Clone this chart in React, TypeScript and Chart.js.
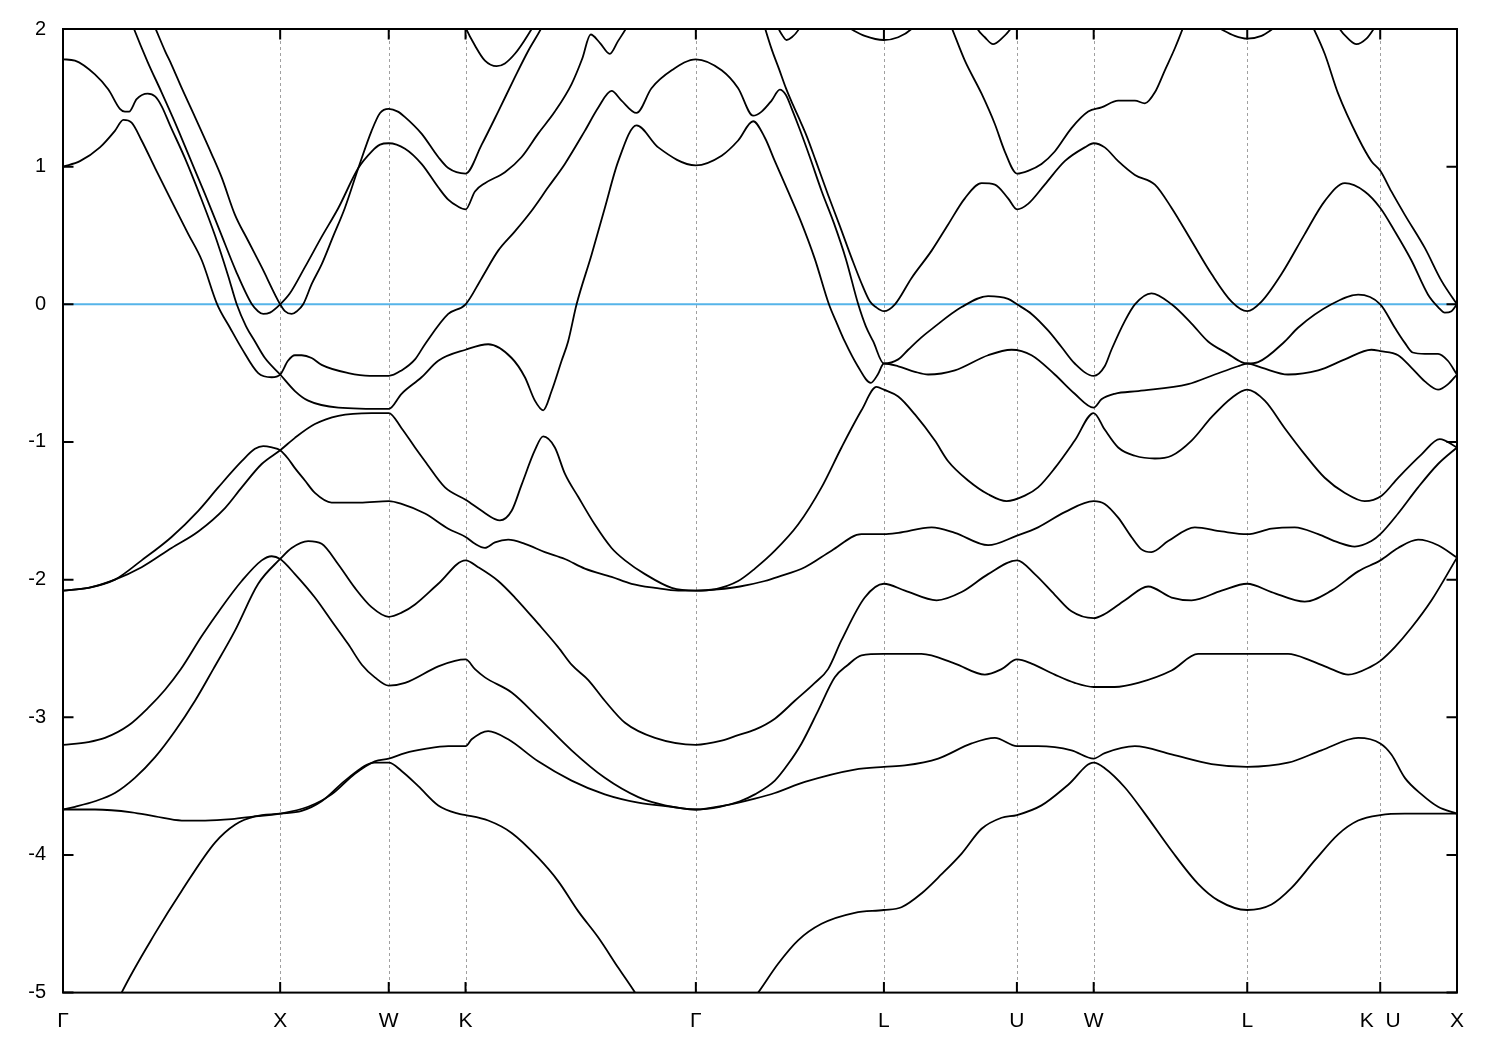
import React, { useEffect, useRef } from "react";
import { Chart, registerables } from "chart.js";

Chart.register(...registerables);

// high-symmetry path (k in units of 2*pi/a)
const kTicks = [0, 1, 1.5, 1.8536, 2.9142, 3.7802, 4.3926, 4.7462, 5.4533, 6.0656, 6.4192];
const kLabels = ["Γ", "X", "W", "K", "Γ", "L", "U", "W", "L", "K  U", "X"];
const energyTicks = [2, 1, 0, -1, -2, -3, -4, -5];
const fermiLevel = 0;

type P = [number, number];

const band01: P[] = [[0,1.00],[0.078,1.04],[0.170,1.14],[0.239,1.26],[0.278,1.34],[0.316,1.32],[0.362,1.19],[0.424,0.99],[0.500,0.75],[0.577,0.51],[0.639,0.32],[0.710,0.00],[0.769,-0.17],[0.823,-0.32],[0.899,-0.50],[0.961,-0.53],[1.000,-0.51],[1.036,-0.41],[1.068,-0.37],[1.099,-0.37],[1.145,-0.39],[1.191,-0.44],[1.314,-0.50],[1.413,-0.52],[1.500,-0.52],[1.559,-0.48],[1.621,-0.40],[1.667,-0.29],[1.774,-0.07],[1.854,0.00],[1.928,0.19],[2.004,0.39],[2.081,0.53],[2.158,0.68],[2.234,0.85],[2.311,1.02],[2.403,1.26],[2.465,1.43],[2.526,1.55],[2.572,1.48],[2.641,1.39],[2.710,1.57],[2.803,1.70],[2.914,1.78],[3.033,1.70],[3.109,1.57],[3.178,1.37],[3.217,1.40],[3.263,1.48],[3.301,1.56],[3.329,1.52],[3.356,1.42],[3.393,1.27],[3.439,1.07],[3.494,0.82],[3.550,0.59],[3.605,0.33],[3.662,0.00],[3.697,-0.16],[3.731,-0.27],[3.780,-0.43],[3.846,-0.40],[3.892,-0.33],[3.953,-0.24],[4.000,-0.18],[4.138,-0.02],[4.260,0.06],[4.352,0.04],[4.393,0.00],[4.460,-0.07],[4.536,-0.19],[4.598,-0.31],[4.659,-0.43],[4.746,-0.52],[4.797,-0.45],[4.828,-0.33],[4.890,-0.12],[4.936,0.00],[5.012,0.08],[5.105,0.00],[5.197,-0.14],[5.273,-0.27],[5.365,-0.36],[5.427,-0.42],[5.453,-0.43],[5.503,-0.42],[5.626,-0.27],[5.687,-0.17],[5.841,0.00],[5.964,0.07],[6.066,0.00],[6.133,-0.17],[6.179,-0.28],[6.215,-0.35],[6.271,-0.36],[6.332,-0.36],[6.377,-0.41],[6.419,-0.51]];
const band02: P[] = [[0,1.78],[0.055,1.77],[0.147,1.67],[0.209,1.56],[0.262,1.42],[0.285,1.40],[0.304,1.40],[0.339,1.49],[0.390,1.53],[0.424,1.51],[0.454,1.44],[0.493,1.30],[0.562,1.06],[0.631,0.79],[0.700,0.50],[0.760,0.21],[0.800,0.00],[0.843,-0.16],[0.884,-0.27],[0.930,-0.39],[1.000,-0.51],[1.068,-0.63],[1.129,-0.70],[1.268,-0.75],[1.500,-0.76],[1.559,-0.65],[1.651,-0.53],[1.728,-0.41],[1.854,-0.33],[1.958,-0.29],[2.066,-0.39],[2.127,-0.53],[2.173,-0.70],[2.211,-0.77],[2.250,-0.63],[2.296,-0.41],[2.326,-0.27],[2.365,0.00],[2.434,0.36],[2.495,0.70],[2.557,1.04],[2.641,1.30],[2.741,1.14],[2.914,1.01],[3.033,1.08],[3.109,1.19],[3.178,1.33],[3.232,1.21],[3.278,1.04],[3.339,0.82],[3.401,0.59],[3.462,0.33],[3.527,0.00],[3.564,-0.14],[3.600,-0.27],[3.660,-0.45],[3.720,-0.57],[3.752,-0.51],[3.780,-0.43],[3.846,-0.45],[3.923,-0.49],[3.984,-0.51],[4.107,-0.48],[4.260,-0.37],[4.368,-0.33],[4.460,-0.37],[4.567,-0.51],[4.659,-0.65],[4.746,-0.75],[4.782,-0.69],[4.843,-0.65],[4.951,-0.63],[5.181,-0.58],[5.304,-0.51],[5.411,-0.45],[5.453,-0.43],[5.519,-0.46],[5.641,-0.51],[5.780,-0.48],[5.903,-0.40],[6.025,-0.33],[6.066,-0.34],[6.148,-0.37],[6.209,-0.46],[6.271,-0.56],[6.332,-0.62],[6.378,-0.58],[6.419,-0.51]];
const band03: P[] = [[0.313,2.06],[0.327,2.00],[0.390,1.76],[0.454,1.54],[0.516,1.32],[0.585,1.06],[0.654,0.80],[0.723,0.53],[0.797,0.24],[0.870,0.00],[0.898,-0.05],[0.922,-0.07],[0.953,-0.06],[1.000,0.00],[1.045,0.08],[1.114,0.27],[1.191,0.49],[1.268,0.70],[1.360,0.99],[1.421,1.11],[1.460,1.16],[1.500,1.17],[1.575,1.13],[1.651,1.02],[1.728,0.85],[1.774,0.76],[1.819,0.71],[1.854,0.69],[1.897,0.82],[1.943,0.88],[2.035,0.96],[2.112,1.07],[2.188,1.24],[2.265,1.40],[2.342,1.60],[2.390,1.78],[2.430,1.96],[2.472,1.90],[2.518,1.82],[2.555,1.91],[2.595,2.01],[2.615,2.07]];
const band04: P[] = [[0.410,2.06],[0.424,2.01],[0.470,1.84],[0.500,1.74],[0.547,1.57],[0.608,1.36],[0.685,1.09],[0.731,0.92],[0.792,0.65],[0.853,0.46],[0.915,0.27],[1.000,0.00],[1.022,-0.05],[1.053,-0.07],[1.077,-0.05],[1.106,0.00],[1.146,0.15],[1.191,0.29],[1.243,0.49],[1.298,0.70],[1.360,0.99],[1.421,1.26],[1.460,1.39],[1.500,1.42],[1.542,1.40],[1.575,1.36],[1.651,1.24],[1.728,1.07],[1.774,0.99],[1.854,0.95],[1.928,1.16],[2.004,1.40],[2.081,1.65],[2.142,1.84],[2.204,2.01],[2.219,2.06]];
const band05: P[] = [[0,-2.08],[0.116,-2.06],[0.239,-2.00],[0.362,-1.86],[0.500,-1.69],[0.623,-1.50],[0.715,-1.33],[0.823,-1.14],[0.884,-1.05],[0.922,-1.03],[0.962,-1.04],[1.000,-1.06],[1.036,-1.12],[1.068,-1.19],[1.114,-1.28],[1.160,-1.37],[1.237,-1.44],[1.367,-1.44],[1.500,-1.43],[1.559,-1.45],[1.667,-1.52],[1.774,-1.63],[1.854,-1.69],[1.897,-1.74],[1.943,-1.77],[1.989,-1.73],[2.050,-1.71],[2.127,-1.74],[2.219,-1.80],[2.311,-1.85],[2.403,-1.92],[2.526,-1.98],[2.618,-2.03],[2.726,-2.06],[2.833,-2.08],[2.914,-2.08],[3.017,-2.07],[3.117,-2.05],[3.232,-2.01],[3.293,-1.98],[3.416,-1.91],[3.539,-1.79],[3.677,-1.67],[3.780,-1.67],[3.846,-1.66],[4.000,-1.62],[4.107,-1.66],[4.260,-1.75],[4.393,-1.68],[4.490,-1.62],[4.613,-1.51],[4.746,-1.43],[4.797,-1.45],[4.859,-1.55],[4.920,-1.69],[4.966,-1.78],[5.012,-1.80],[5.089,-1.72],[5.212,-1.62],[5.335,-1.65],[5.453,-1.67],[5.565,-1.63],[5.672,-1.62],[5.780,-1.67],[5.872,-1.73],[5.948,-1.76],[6.025,-1.72],[6.066,-1.67],[6.148,-1.52],[6.240,-1.33],[6.332,-1.16],[6.419,-1.04]];
const band06: P[] = [[0,-2.08],[0.116,-2.06],[0.239,-2.00],[0.362,-1.91],[0.500,-1.77],[0.623,-1.65],[0.746,-1.48],[0.823,-1.33],[0.915,-1.16],[1.000,-1.06],[1.068,-0.97],[1.160,-0.87],[1.268,-0.81],[1.421,-0.79],[1.500,-0.79],[1.559,-0.90],[1.621,-1.04],[1.667,-1.14],[1.759,-1.33],[1.854,-1.42],[1.928,-1.50],[1.989,-1.56],[2.012,-1.57],[2.066,-1.50],[2.112,-1.31],[2.173,-1.06],[2.211,-0.96],[2.265,-1.04],[2.311,-1.23],[2.373,-1.40],[2.449,-1.60],[2.526,-1.77],[2.588,-1.86],[2.680,-1.96],[2.803,-2.06],[2.914,-2.08],[3.002,-2.07],[3.109,-2.01],[3.186,-1.92],[3.278,-1.79],[3.385,-1.60],[3.493,-1.33],[3.585,-1.04],[3.677,-0.77],[3.746,-0.60],[3.780,-0.62],[3.846,-0.67],[3.923,-0.80],[4.015,-0.99],[4.076,-1.14],[4.168,-1.28],[4.260,-1.38],[4.345,-1.43],[4.429,-1.39],[4.490,-1.33],[4.567,-1.19],[4.659,-0.99],[4.746,-0.79],[4.797,-0.91],[4.859,-1.04],[4.936,-1.10],[5.028,-1.12],[5.105,-1.10],[5.197,-0.99],[5.289,-0.82],[5.381,-0.68],[5.453,-0.62],[5.534,-0.70],[5.626,-0.90],[5.718,-1.09],[5.810,-1.26],[5.903,-1.37],[5.994,-1.43],[6.072,-1.39],[6.148,-1.26],[6.256,-1.09],[6.340,-0.98],[6.419,-1.04]];
const band07: P[] = [[0,-3.20],[0.116,-3.18],[0.193,-3.15],[0.301,-3.06],[0.393,-2.93],[0.470,-2.80],[0.543,-2.65],[0.639,-2.41],[0.731,-2.20],[0.823,-2.01],[0.915,-1.86],[0.961,-1.83],[1.000,-1.85],[1.068,-1.96],[1.160,-2.13],[1.237,-2.30],[1.314,-2.47],[1.377,-2.62],[1.436,-2.71],[1.500,-2.77],[1.575,-2.75],[1.728,-2.63],[1.805,-2.59],[1.854,-2.58],[1.897,-2.65],[1.943,-2.71],[2.066,-2.82],[2.188,-3.00],[2.342,-3.24],[2.495,-3.44],[2.649,-3.58],[2.772,-3.64],[2.914,-3.67],[3.025,-3.65],[3.117,-3.61],[3.186,-3.56],[3.278,-3.46],[3.339,-3.34],[3.401,-3.19],[3.478,-2.95],[3.554,-2.71],[3.614,-2.62],[3.677,-2.55],[3.780,-2.54],[3.953,-2.54],[4.107,-2.61],[4.245,-2.69],[4.322,-2.65],[4.393,-2.58],[4.460,-2.61],[4.567,-2.69],[4.659,-2.75],[4.746,-2.78],[4.843,-2.78],[4.951,-2.75],[5.105,-2.66],[5.227,-2.54],[5.453,-2.54],[5.641,-2.54],[5.749,-2.59],[5.841,-2.65],[5.918,-2.69],[6.025,-2.63],[6.066,-2.59],[6.133,-2.49],[6.209,-2.35],[6.302,-2.15],[6.419,-1.84]];
const band08: P[] = [[0,-3.67],[0.055,-3.65],[0.147,-3.61],[0.239,-3.55],[0.331,-3.44],[0.424,-3.29],[0.516,-3.10],[0.608,-2.88],[0.692,-2.65],[0.792,-2.37],[0.899,-2.03],[1.000,-1.85],[1.053,-1.77],[1.129,-1.72],[1.191,-1.74],[1.268,-1.89],[1.344,-2.06],[1.421,-2.20],[1.500,-2.27],[1.559,-2.24],[1.621,-2.18],[1.728,-2.03],[1.854,-1.86],[1.912,-1.91],[2.004,-2.01],[2.081,-2.13],[2.188,-2.32],[2.280,-2.49],[2.343,-2.62],[2.419,-2.73],[2.495,-2.88],[2.588,-3.04],[2.726,-3.15],[2.914,-3.20],[3.033,-3.17],[3.109,-3.13],[3.186,-3.09],[3.278,-3.01],[3.370,-2.88],[3.462,-2.75],[3.523,-2.65],[3.585,-2.44],[3.692,-2.13],[3.780,-2.03],[3.877,-2.08],[4.023,-2.15],[4.138,-2.09],[4.260,-1.96],[4.393,-1.86],[4.475,-1.96],[4.567,-2.11],[4.644,-2.23],[4.746,-2.28],[4.797,-2.25],[4.890,-2.15],[4.997,-2.05],[5.105,-2.13],[5.197,-2.15],[5.335,-2.08],[5.453,-2.03],[5.565,-2.09],[5.718,-2.16],[5.841,-2.08],[5.964,-1.94],[6.066,-1.86],[6.148,-1.77],[6.240,-1.71],[6.332,-1.75],[6.419,-1.84]];
const band09: P[] = [[0,-3.67],[0.147,-3.67],[0.316,-3.69],[0.424,-3.72],[0.547,-3.75],[0.654,-3.75],[0.777,-3.74],[0.884,-3.72],[1.000,-3.70],[1.129,-3.65],[1.237,-3.56],[1.344,-3.41],[1.436,-3.32],[1.500,-3.30],[1.575,-3.26],[1.667,-3.23],[1.774,-3.21],[1.854,-3.21],[1.882,-3.16],[1.958,-3.10],[2.050,-3.16],[2.188,-3.32],[2.342,-3.46],[2.495,-3.56],[2.649,-3.62],[2.803,-3.65],[2.914,-3.67],[3.048,-3.64],[3.186,-3.59],[3.278,-3.55],[3.416,-3.47],[3.646,-3.38],[3.780,-3.36],[3.877,-3.35],[4.030,-3.30],[4.184,-3.19],[4.291,-3.15],[4.393,-3.21],[4.490,-3.21],[4.644,-3.24],[4.746,-3.30],[4.797,-3.26],[4.936,-3.21],[5.105,-3.27],[5.289,-3.34],[5.453,-3.36],[5.641,-3.33],[5.795,-3.24],[5.964,-3.15],[6.066,-3.19],[6.117,-3.27],[6.179,-3.44],[6.256,-3.56],[6.332,-3.65],[6.419,-3.70]];
const band10: P[] = [[0.253,-5.06],[0.270,-5.00],[0.424,-4.57],[0.547,-4.26],[0.700,-3.91],[0.792,-3.78],[0.884,-3.72],[1.000,-3.70],[1.099,-3.68],[1.191,-3.61],[1.314,-3.44],[1.436,-3.33],[1.500,-3.33],[1.559,-3.39],[1.636,-3.50],[1.728,-3.64],[1.820,-3.70],[1.854,-3.71],[1.958,-3.75],[2.066,-3.84],[2.188,-4.02],[2.280,-4.19],[2.373,-4.41],[2.465,-4.60],[2.557,-4.82],[2.634,-5.00],[2.657,-5.06]];
const band11: P[] = [[3.172,-5.06],[3.201,-5.00],[3.293,-4.79],[3.385,-4.62],[3.493,-4.50],[3.646,-4.42],[3.780,-4.40],[3.861,-4.38],[3.953,-4.28],[4.046,-4.14],[4.138,-3.99],[4.230,-3.81],[4.322,-3.73],[4.393,-3.71],[4.506,-3.64],[4.629,-3.49],[4.746,-3.33],[4.797,-3.37],[4.890,-3.51],[4.982,-3.70],[5.105,-3.97],[5.227,-4.21],[5.319,-4.33],[5.453,-4.40],[5.565,-4.36],[5.657,-4.24],[5.764,-4.04],[5.872,-3.85],[5.964,-3.75],[6.066,-3.71],[6.179,-3.70],[6.419,-3.70]];
const band12: P[] = [[3.223,2.06],[3.232,2.01],[3.264,1.85],[3.297,1.71],[3.329,1.57],[3.361,1.45],[3.398,1.32],[3.425,1.22],[3.467,1.04],[3.522,0.80],[3.577,0.57],[3.633,0.33],[3.683,0.13],[3.716,0.02],[3.743,-0.02],[3.780,-0.05],[3.831,0.00],[3.907,0.19],[4.000,0.39],[4.076,0.58],[4.153,0.77],[4.230,0.88],[4.291,0.87],[4.352,0.77],[4.393,0.69],[4.444,0.73],[4.521,0.87],[4.613,1.04],[4.705,1.14],[4.746,1.17],[4.797,1.14],[4.859,1.04],[4.936,0.94],[5.028,0.87],[5.105,0.70],[5.197,0.46],[5.289,0.22],[5.381,0.02],[5.453,-0.05],[5.519,0.02],[5.611,0.22],[5.718,0.51],[5.810,0.75],[5.903,0.88],[5.994,0.82],[6.066,0.70],[6.133,0.53],[6.209,0.32],[6.286,0.07],[6.332,-0.02],[6.363,-0.06],[6.394,-0.05],[6.419,0.00]];
const band13: P[] = [[4.079,2.06],[4.092,2.01],[4.153,1.77],[4.230,1.53],[4.291,1.31],[4.337,1.11],[4.393,0.95],[4.444,0.97],[4.506,1.02],[4.567,1.11],[4.644,1.28],[4.721,1.40],[4.782,1.43],[4.859,1.48],[4.936,1.48],[4.982,1.46],[5.028,1.54],[5.074,1.70],[5.120,1.86],[5.158,2.01],[5.170,2.06]];
const band14: P[] = [[5.741,2.06],[5.757,2.01],[5.810,1.82],[5.872,1.53],[5.964,1.21],[6.025,1.04],[6.066,0.97],[6.117,0.82],[6.179,0.65],[6.271,0.41],[6.348,0.17],[6.419,0.00]];
const band15: P[] = [[1.842,2.06],[1.854,2.01],[1.897,1.88],[1.943,1.77],[1.997,1.73],[2.035,1.75],[2.081,1.82],[2.122,1.91],[2.158,2.00],[2.173,2.04]];
const band16: P[] = [[3.283,2.06],[3.293,2.01],[3.310,1.96],[3.332,1.92],[3.356,1.94],[3.385,1.99],[3.398,2.03]];
const band17: P[] = [[3.577,2.04],[3.616,2.01],[3.692,1.95],[3.780,1.92],[3.846,1.94],[3.907,2.00],[3.927,2.04]];
const band18: P[] = [[4.194,2.06],[4.207,2.01],[4.245,1.94],[4.283,1.89],[4.322,1.93],[4.368,2.01],[4.383,2.05]];
const band19: P[] = [[5.281,2.04],[5.319,2.01],[5.396,1.95],[5.453,1.93],[5.519,1.95],[5.580,2.01],[5.612,2.04]];
const band20: P[] = [[5.866,2.04],[5.879,2.00],[5.918,1.93],[5.956,1.89],[6.002,1.93],[6.040,2.01],[6.054,2.04]];

const bands: P[][] = [band01, band02, band03, band04, band05, band06, band07, band08, band09, band10, band11, band12, band13, band14, band15, band16, band17, band18, band19, band20];

const FONT = "'Liberation Sans', Arial, Helvetica, sans-serif";

export default function App() {
  const ref = useRef<HTMLCanvasElement | null>(null);

  useEffect(() => {
    const canvas = ref.current;
    if (!canvas) return;
    const kMax = kTicks[kTicks.length - 1];

    const framePlugin = {
      id: "bandFrame",
      beforeDatasetsDraw(chart: any) {
        const { ctx, chartArea: a, scales } = chart;
        const xs = scales.x;
        ctx.save();
        ctx.strokeStyle = "#a0a0a0";
        ctx.lineWidth = 1;
        ctx.setLineDash([3, 3]);
        for (const k of kTicks.slice(1, -1)) {
          const px = Math.round(xs.getPixelForValue(k)) + 0.5;
          ctx.beginPath();
          ctx.moveTo(px, a.top);
          ctx.lineTo(px, a.bottom);
          ctx.stroke();
        }
        ctx.restore();
      },
      afterDatasetsDraw(chart: any) {
        const { ctx, chartArea: a, scales } = chart;
        const xs = scales.x;
        const ys = scales.y;
        const tl = 10.5;
        ctx.save();
        ctx.strokeStyle = "#000";
        ctx.lineWidth = 2;
        ctx.setLineDash([]);
        ctx.beginPath();
        for (const k of kTicks) {
          const px = xs.getPixelForValue(k);
          ctx.moveTo(px, a.bottom);
          ctx.lineTo(px, a.bottom - tl);
          ctx.moveTo(px, a.top);
          ctx.lineTo(px, a.top + tl);
        }
        for (const e of energyTicks) {
          const py = ys.getPixelForValue(e);
          ctx.moveTo(a.left, py);
          ctx.lineTo(a.left + tl, py);
          ctx.moveTo(a.right, py);
          ctx.lineTo(a.right - tl, py);
        }
        ctx.stroke();
        ctx.strokeRect(a.left, a.top, a.right - a.left, a.bottom - a.top);
        ctx.restore();
      },
    };

    const datasets: any[] = bands.map((b) => ({
      data: b.map(([k, e]) => ({ x: k, y: e })),
      showLine: true,
      borderColor: "#000",
      borderWidth: 1.8,
      pointRadius: 0,
      fill: false,
      cubicInterpolationMode: "monotone",
      order: 0,
    }));
    datasets.push({
      data: [
        { x: 0, y: fermiLevel },
        { x: kMax, y: fermiLevel },
      ],
      showLine: true,
      borderColor: "#56b4e9",
      borderWidth: 2,
      pointRadius: 0,
      fill: false,
      order: 1,
    });

    const chart = new Chart(canvas, {
      type: "scatter",
      data: { datasets },
      options: {
        animation: false,
        responsive: false,
        devicePixelRatio: 1,
        layout: { padding: { left: 0, right: 43, top: 28, bottom: 0 } },
        plugins: { legend: { display: false }, tooltip: { enabled: false } },
        scales: {
          x: {
            type: "linear",
            min: 0,
            max: kMax,
            afterBuildTicks: (scale: any) => {
              scale.ticks = kTicks.map((v) => ({ value: v }));
            },
            afterFit: (scale: any) => {
              scale.height = 1050 - 992.6;
            },
            ticks: {
              autoSkip: false,
              maxRotation: 0,
              minRotation: 0,
              padding: 16,
              color: "#000",
              font: { family: FONT, size: 21 },
              callback: (_v: any, i: number) => kLabels[i],
            },
            grid: { display: false, drawTicks: false },
            border: { display: false },
          },
          y: {
            type: "linear",
            min: -5,
            max: 2,
            afterFit: (scale: any) => {
              scale.width = 63;
            },
            ticks: {
              stepSize: 1,
              padding: 17,
              color: "#000",
              font: { family: FONT, size: 20 },
            },
            grid: { display: false, drawTicks: false },
            border: { display: false },
          },
        },
      },
      plugins: [framePlugin],
    } as any);

    return () => chart.destroy();
  }, []);

  return (
    <div style={{ position: "absolute", left: 0, top: 0, width: 1500, height: 1050, background: "#fff" }}>
      <canvas ref={ref} width={1500} height={1050} style={{ display: "block", width: 1500, height: 1050 }} />
    </div>
  );
}
